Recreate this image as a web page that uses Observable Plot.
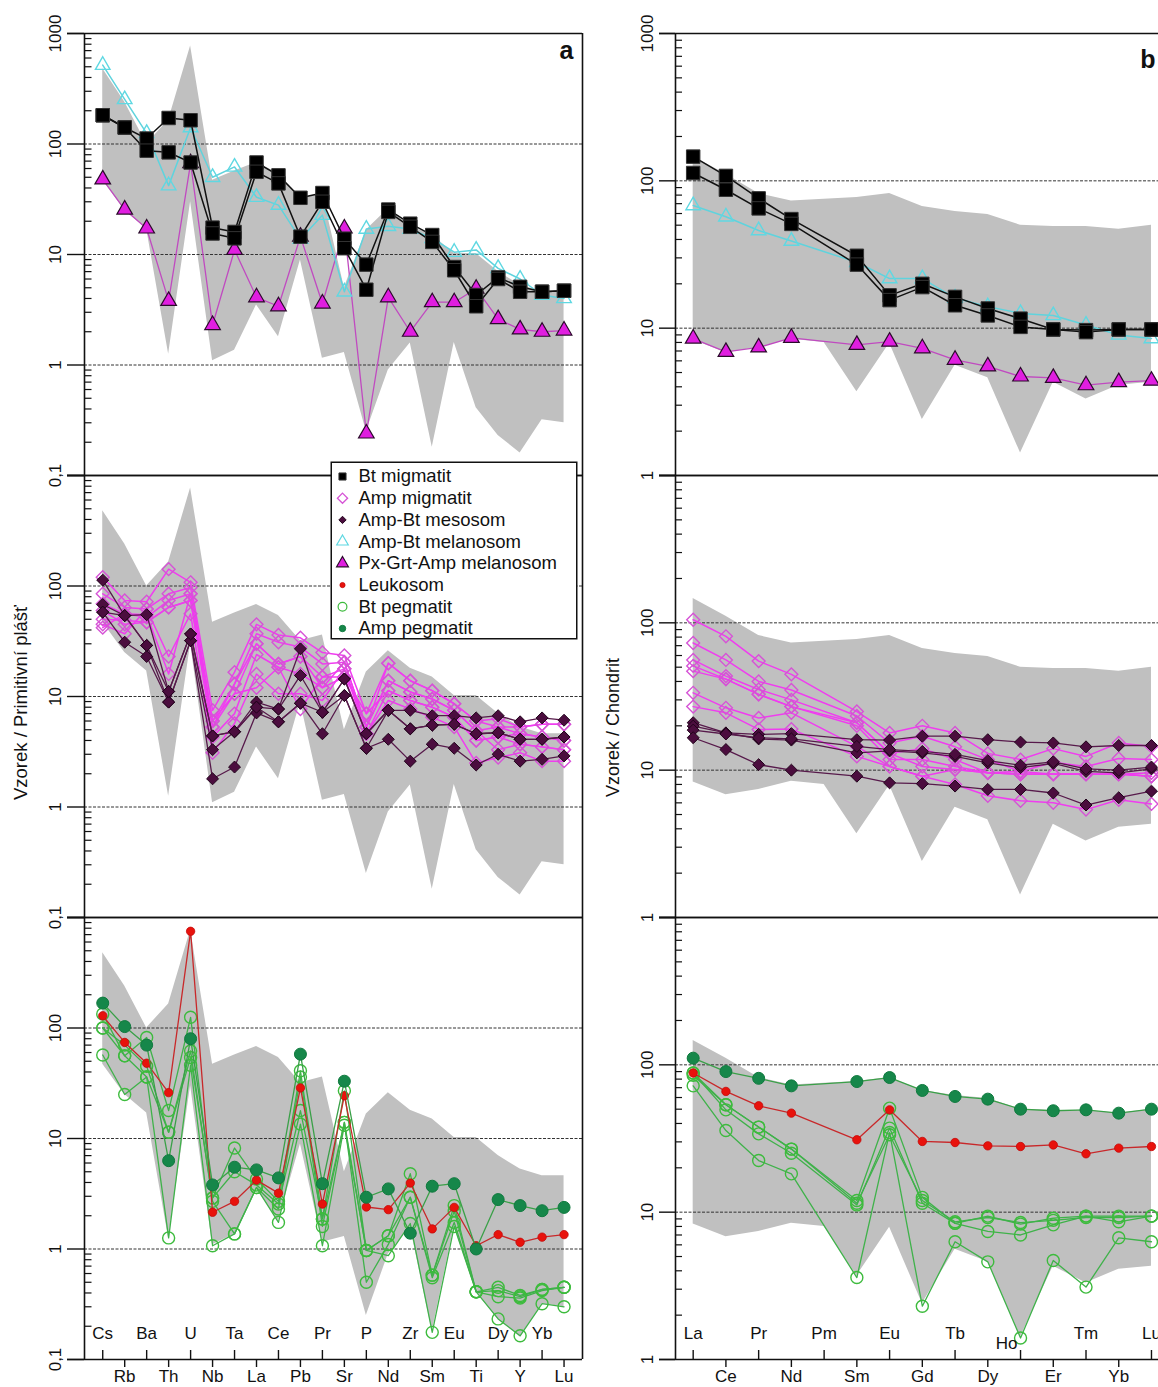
<!DOCTYPE html>
<html><head><meta charset="utf-8">
<script src="https://cdn.jsdelivr.net/npm/d3@7"></script>
<script src="https://cdn.jsdelivr.net/npm/@observablehq/plot@0.6"></script>
<style>
html,body{margin:0;padding:0;background:#fff;overflow:hidden;}
#wrap{position:relative;width:1158px;height:1387px;overflow:hidden;font-family:"Liberation Sans",Arial,sans-serif;}
#wrap svg{position:absolute;overflow:visible;max-width:none;}
</style></head><body><div id="wrap"></div>
<script>
// ---------- categories ----------
const spiderEls = ["Cs","Rb","Ba","Th","U","Nb","Ta","La","Ce","Pb","Pr","Sr","P","Nd","Zr","Sm","Eu","Ti","Dy","Y","Yb","Lu"];
const reeEls = ["La","Ce","Pr","Nd","Pm","Sm","Eu","Gd","Tb","Dy","Ho","Er","Tm","Yb","Lu"];
const legendNames = ["Bt migmatit","Amp migmatit","Amp-Bt mesosom","Amp-Bt melanosom","Px-Grt-Amp melanosom","Leukosom","Bt pegmatit","Amp pegmatit"];
const spiderTickValues = [1000,100,10,1,0.1];
const reeTickValues = [1000,100,10,1];

// ---------- envelopes ----------
const spiderEnvHi = [480,240,100,165,770,47,57,68,54,32,36,5,16.7,26,18,15,10.2,10.2,7,5.3,4.6,4.6];
const spiderEnvLo = [47,25,17,1.25,30,1.09,1.36,3.5,1.8,8.9,1.15,1.3,0.25,0.9,1.58,0.18,1.6,0.41,0.23,0.16,0.32,0.3];
const reeEnvHi = [146,111,82,73,75,77,82,67,62,59,50,49,49,47,50];
const reeEnvLo = [8.3,6.8,7.4,8.4,8.0,3.7,7.9,2.4,5.6,4.6,1.42,4.3,3.3,4.1,4.3];

// ---------- spider (primitive mantle) ----------
const spBtMig1 = [182,141,112,172,164,17.5,16,68,52,32.6,36,13.9,8.1,25.5,19,15,7.7,4.3,6.2,5.1,4.6,4.7];
const spBtMig2 = [182,141,87,84,68,15.5,14,56,44,14.5,30,11.4,4.8,24.3,17.8,13,7.2,3.4,6.0,4.6,4.6,4.7];
const spAmpBtMel = [517,253,125,42,141,50,62,33,28,13.8,22.7,4.6,17,18,17,14,10.5,11,7.5,6,4.3,4.0];
const spPxGrt = [47.8,25.5,17.2,3.8,67,2.3,11,4.1,3.4,14.5,3.6,17.2,0.24,4.1,2.0,3.7,3.7,4.9,2.6,2.1,2.0,2.05];

const spAmpMig1 = [120,74,72,142,108,7.5,16.6,45,36,34,25,23.5,7,20,13.9,11.3,8.6,6,6.3,5.3,5.6,5.6];
const spAmpMig2 = [85,64,62,85,97,6,13,37,31,28,19.7,20.4,5.3,13.9,11,9.5,7.5,4.9,5.3,4.6,4.3,4];
const spAmpMig3 = [69,56,52,74,85,5.3,10.6,30,19.7,23,15,17.8,4.6,11.3,9.2,8,6.5,4,4.3,3.7,3.5,3.3];
const spAmpMig4 = [50,49,47,64,74,4.3,7,24,18.4,16,12,15,4.6,9.2,7.7,6.5,5.3,2.5,2.8,3.1,2.6,2.6];
const spAmpMig5 = [45,37,62,23,56,3.1,5.7,16,10.6,10.6,9.2,17.8,5.3,13.9,11,9.5,7.5,4.9,3.3,3.7,3.5,3.3];
const spAmpMig6 = [42,56,55,16,85,6,10.6,12,18.4,7.7,15,15,7,11.3,9.2,8,6.5,4,4.3,4.6,4.3,4];
const spAmpMig7 = [60,45,47,64,74,5.3,13,30,19.7,23,12,20.4,5.3,20,13.9,11.3,8.6,6,5.3,5.3,5.6,5.6];
const spMeso1 = [113,54,55,11.1,36.8,4.4,4.8,8.9,7.7,27,7.2,14.4,4.6,7.5,7.5,6.7,6.7,6.4,6.7,5.9,6.4,6.1];
const spMeso2 = [68,54,29,8.9,32,3.3,4.8,8,7.7,15.5,7.2,14.4,4.6,7.5,5.1,5.5,5.6,4.6,4.7,4.1,4.1,4.3];
const spMeso3 = [58,31,23,8.9,32,1.8,2.3,7.1,5.9,8.7,4.6,10.2,3.4,4.1,2.6,3.7,3.4,2.4,3.0,2.6,2.7,2.9];
const spMeso4 = [58,54,29,11.1,36.8,4.4,4.8,8,5.9,8.7,7.2,10.2,3.4,7.5,5.1,5.5,5.6,4.6,4.7,4.1,4.1,4.3];

const spLeuko = [129,74,48,26,750,2.15,2.7,4.2,3.2,28.7,2.55,24.4,2.4,2.27,3.95,1.52,2.38,1.07,1.35,1.15,1.28,1.35];
const spAmpPeg = [168,103,70,6.3,80,3.8,5.5,5.2,4.4,58,3.9,33,2.94,3.5,1.39,3.7,3.9,1.0,2.8,2.47,2.22,2.38];
const spBtPeg1 = [134,56,82,17.9,125,2.9,8.2,4.3,2.7,41,1.87,27,0.97,1.32,4.8,0.58,2.47,0.41,0.45,0.38,0.43,0.45];
const spBtPeg2 = [100,56,36,11.4,62,2.7,1.37,3.6,2.3,36,1.6,14,0.5,1.1,2.94,0.55,1.74,0.41,0.37,0.36,0.42,0.45];
const spBtPeg3 = [57,25,36,1.26,46,1.07,1.37,3.6,1.74,13.5,1.07,13.2,0.97,0.87,1.7,0.176,1.6,0.41,0.233,0.164,0.32,0.3];
const spBtPeg4 = [100,70,45,11.4,54,2.9,5.0,3.8,2.55,17.9,1.87,14,0.97,1.32,2.94,0.58,2.2,0.41,0.42,0.37,0.43,0.45];

// ---------- REE (chondrite) ----------
const reBtMig1 = [146,108,76,55,null,31,16.7,20,16.3,13.6,11.6,9.8,9.7,9.8,9.8];
const reBtMig2 = [113,87,65,51,null,27,15.5,19,14.3,12.2,10.2,9.8,9.4,9.8,9.8];
const reAmpBtMel = [68,57,46,39,null,28,21.7,21.7,16,14,12.6,12.2,10.5,9,8.5];
const rePxGrt = [8.5,6.9,7.4,8.6,null,7.7,8.1,7.3,6.1,5.5,4.7,4.6,4.1,4.3,4.4];

const reAmpMig1 = [105,81,55,44.7,null,25,17.9,20,17.9,13,11.8,14,12.4,15.3,14.5];
const reAmpMig2 = [73,56,40,35,null,23.3,15.3,17,14.4,11.8,9.8,11.3,10.6,12,11.8];
const reAmpMig3 = [56,43.5,35.3,30,null,21,13,14,11.8,9.6,9.4,9.4,9.4,9.4,9.1];
const reAmpMig4 = [51,41.5,32.7,27,null,20,11.8,11.8,10.6,9.6,9.4,9.4,9.4,9.4,9.1];
const reAmpMig5 = [47,41.5,32.7,27,null,21,13,10.6,10.1,9.6,9.8,9.4,9.4,9.4,9.6];
const reAmpMig6 = [33.5,26.5,22.6,24.5,null,14.5,10.6,9.1,10.1,9.6,9.4,9.4,9.4,9.4,9.1];
const reAmpMig7 = [27,24.5,18.9,19,null,12.4,10.6,9.1,8,6.7,6.2,6,5.4,6.3,5.9];
const reMeso1 = [21,17.9,17.5,17.7,null,16.1,16,17,17,16.1,15.5,15.3,14.4,14.7,14.7];
const reMeso2 = [19.9,17.9,16.3,16,null,13.1,13.5,13.1,12.4,11.2,10.4,11.1,9.8,9.6,10.2];
const reMeso3 = [18.7,17.6,16.6,16.3,null,14.5,13.8,13.4,12.8,11.6,10.8,11.4,10.2,10,10.5];
const reMeso4 = [16.6,13.8,10.9,10,null,9.1,8.2,8.1,7.8,7.4,7.4,7.0,5.8,6.5,7.2];

const reLeuko = [88,66,52.7,47,null,31,49.5,30.2,29.7,28.2,27.9,28.6,24.9,27.2,27.9];
const reAmpPeg = [111,90,81,72,null,77,82,67,61,58.5,50,48.8,49.5,47,50];
const reBtPeg1 = [88,53.6,37.8,26.8,null,12,50.8,12.6,8.4,9.4,8.3,9.1,9.4,9.4,9.4];
const reBtPeg2 = [88,49.5,34,25.1,null,11.2,37.2,11.5,8.4,7.4,7,8.2,9.4,8.6,9.4];
const reBtPeg3 = [72,35.8,22.4,18.2,null,3.6,34.7,2.3,6.3,4.6,1.4,4.7,3.1,6.7,6.3];
const reBtPeg4 = [85,53.6,37.8,26.8,null,11.5,33.5,12,8.6,9.2,8.5,8.8,9.2,9.2,9.4];

// ---------- styles ----------
const ST = {
  btMig:  {symbol:"square",   r:7.6, fill:"#000", stroke:"#333", sw:1, line:"#111", lw:1.5},
  ampMig: {symbol:"diamond2", r:5.8, fill:"none", stroke:"#d653d6", sw:1.4, line:"#f03cf0", lw:1.5},
  meso:   {symbol:"diamond2", r:5.4, fill:"#4b0d3e", stroke:"#22041c", sw:1, line:"#571a4b", lw:1.3},
  mel:    {symbol:"triangle", r:5.4, fill:"none", stroke:"#5fd8e2", sw:1.4, line:"#5fd3dd", lw:1.5},
  pxgrt:  {symbol:"triangle", r:5.8, fill:"#e01ee0", stroke:"#2a0a2a", sw:1.2, line:"#c04ac0", lw:1.3},
  leuko:  {symbol:"circle",   r:4.2, fill:"#e8120c", stroke:"#c40a0a", sw:0.8, line:"#c8282a", lw:1.3},
  btPeg:  {symbol:"circle",   r:6,   fill:"none", stroke:"#3dbb3d", sw:1.4, line:"#3fb24a", lw:1.3},
  ampPeg: {symbol:"circle",   r:6,   fill:"#16874a", stroke:"#0f7a3e", sw:1, line:"#3aa048", lw:1.3}
};

const FONT = "Liberation Sans, Arial, Helvetica, sans-serif";
const wrap = document.getElementById("wrap");

function rowsOf(values, name){
  return values.map((v,i)=>({i, v, s:name})).filter(d=>d.v!=null);
}

function makePanel(cfg){
  const {els, xDomain, yDomain, majors, labels, envHi, envLo, groups, left, frameTop,
         marginLeft, frameW, frameH, xAxis, tickDx, minorLen, majorLen, extraMarks=[]} = cfg;
  const mt = 22, mb = 36, mr = 12;
  const width = marginLeft + frameW + mr, height = mt + frameH + mb;
  const marks = [];
  const envRows = els.map((e,i)=>({i, lo:envLo[i], hi:envHi[i]}));
  marks.push(Plot.areaY(envRows, {x:"i", y1:"lo", y2:"hi", fill:"#c0c0c0"}));
  // minor ticks
  const minors = [];
  for (let d = yDomain[0]; d < yDomain[1]; d *= 10) for (let k = 2; k <= 9; k++) minors.push(+(d*k).toPrecision(3));
  marks.push(Plot.ruleY(minors, {stroke:"#111", strokeWidth:1.2, insetRight: frameW - minorLen}));
  // dashed decade gridlines
  const inner = majors.filter(v => v > yDomain[0] && v < yDomain[1]);
  marks.push(Plot.ruleY(inner, {stroke:"#333", strokeWidth:1, strokeDasharray:"3,1.5"}));
  // major tick stubs
  marks.push(Plot.ruleY(majors, {stroke:"#111", strokeWidth:1.4, insetLeft:-majorLen, insetRight:frameW}));
  // series
  for (const g of groups){
    const st = g.style;
    const data = g.rows.flatMap((arr,k)=>rowsOf(arr, g.name + k));
    marks.push(Plot.line(data, {x:"i", y:"v", z:"s", stroke:st.line, strokeWidth:st.lw}));
    marks.push(Plot.dot(data, {x:"i", y:"v", symbol:st.symbol, r:st.r, fill:st.fill, stroke:st.stroke, strokeWidth:st.sw}));
  }
  // frame: top/bottom solid, left axis, right border
  marks.push(Plot.ruleY(yDomain, {stroke:"#111", strokeWidth:1.6, insetLeft:-majorLen}));
  marks.push(Plot.ruleX(xDomain, {stroke:"#111", strokeWidth:1.6}));
  // tick labels
  marks.push(Plot.text(labels, {y:d=>d, text:d=>d < 1 ? "0,1" : String(d), frameAnchor:"left",
    textAnchor:"middle", dx:tickDx, rotate:-90, fontSize:17, fill:"#111"}));
  if (xAxis){
    const all = els.map((e,i)=>({e,i}));
    const even = all.filter(d=>d.i%2===0), odd = all.filter(d=>d.i%2===1);
    marks.push(Plot.ruleX(even, {x:"i", insetTop:frameH-9, stroke:"#111", strokeWidth:1.4}));
    marks.push(Plot.ruleX(odd, {x:"i", insetTop:frameH, insetBottom:-8, stroke:"#111", strokeWidth:1.4}));
    marks.push(Plot.text(even.filter(d=>d.e!=="Ho"), {x:"i", text:"e", frameAnchor:"bottom", textAnchor:"middle", dy:-21, fontSize:17, fill:"#111"}));
    marks.push(Plot.text(even.filter(d=>d.e==="Ho"), {x:"i", text:"e", frameAnchor:"bottom", textAnchor:"middle", dy:-11, dx:-14, fontSize:17, fill:"#111"}));
    marks.push(Plot.text(odd, {x:"i", text:"e", frameAnchor:"bottom", textAnchor:"middle", dy:22, fontSize:17, fill:"#111"}));
  }
  marks.push(...extraMarks);
  const svg = Plot.plot({
    width, height, marginLeft, marginRight:mr, marginTop:mt, marginBottom:mb,
    x:{domain:xDomain, axis:null},
    y:{type:"log", domain:yDomain, axis:null},
    style:{fontFamily:FONT, overflow:"visible", background:"transparent"},
    marks
  });
  svg.style.left = left + "px";
  svg.style.top = (frameTop - mt) + "px";
  wrap.appendChild(svg);
}

const L = {els:spiderEls, xDomain:[-0.83,21.84], yDomain:[0.1,1000], majors:spiderTickValues,
  envHi:spiderEnvHi, envLo:spiderEnvLo, left:0, marginLeft:84, frameW:498, frameH:442,
  tickDx:-29, minorLen:7.5, majorLen:17};
const R = {els:reeEls, xDomain:[-0.54,14.52], yDomain:[1,1000], majors:reeTickValues,
  envHi:reeEnvHi, envLo:reeEnvLo, left:600, marginLeft:75, frameW:493, frameH:442,
  tickDx:-28, minorLen:7, majorLen:16};

const panelLetter = (t, dx, dy) => Plot.text([t], {text:d=>d, frameAnchor:"top-right", dx, dy,
  textAnchor:"end", lineAnchor:"bottom", fontSize:25, fontWeight:"bold", fill:"#111"});

// ----- left column -----
makePanel({...L, frameTop:33, labels:[1000,100,10,1,0.1], xAxis:false,
  groups:[
    {name:"px", style:ST.pxgrt, rows:[spPxGrt]},
    {name:"mel", style:ST.mel, rows:[spAmpBtMel]},
    {name:"bt", style:ST.btMig, rows:[spBtMig1, spBtMig2]}
  ],
  extraMarks:[panelLetter("a", -9, 25)]});
makePanel({...L, frameTop:475, labels:[100,10,1,0.1], xAxis:false,
  groups:[
    {name:"am", style:ST.ampMig, rows:[spAmpMig1,spAmpMig2,spAmpMig3,spAmpMig4,spAmpMig5,spAmpMig6,spAmpMig7]},
    {name:"ms", style:ST.meso, rows:[spMeso1,spMeso2,spMeso3,spMeso4]}
  ],
  extraMarks:[Plot.text(["Vzorek / Primitivní plášť"], {text:d=>d, frameAnchor:"left", textAnchor:"middle",
    dx:-63, dy:6, rotate:-90, fontSize:18.5, fill:"#111"})]});
makePanel({...L, frameTop:917, labels:[100,10,1,0.1], xAxis:true,
  groups:[
    {name:"bp", style:ST.btPeg, rows:[spBtPeg1,spBtPeg2,spBtPeg3,spBtPeg4]},
    {name:"le", style:ST.leuko, rows:[spLeuko]},
    {name:"ap", style:ST.ampPeg, rows:[spAmpPeg]}
  ]});

// ----- right column -----
makePanel({...R, frameTop:33, labels:[1000,100,10,1], xAxis:false,
  groups:[
    {name:"px", style:ST.pxgrt, rows:[rePxGrt]},
    {name:"mel", style:ST.mel, rows:[reAmpBtMel]},
    {name:"bt", style:ST.btMig, rows:[reBtMig1, reBtMig2]}
  ],
  extraMarks:[panelLetter("b", -13, 34)]});
makePanel({...R, frameTop:475, labels:[100,10,1], xAxis:false,
  groups:[
    {name:"am", style:ST.ampMig, rows:[reAmpMig1,reAmpMig2,reAmpMig3,reAmpMig4,reAmpMig5,reAmpMig6,reAmpMig7]},
    {name:"ms", style:ST.meso, rows:[reMeso1,reMeso2,reMeso3,reMeso4]}
  ],
  extraMarks:[Plot.text(["Vzorek / Chondrit"], {text:d=>d, frameAnchor:"left", textAnchor:"middle",
    dx:-62, dy:31, rotate:-90, fontSize:18, fill:"#111"})]});
makePanel({...R, frameTop:917, labels:[100,10,1], xAxis:true,
  groups:[
    {name:"bp", style:ST.btPeg, rows:[reBtPeg1,reBtPeg2,reBtPeg3,reBtPeg4]},
    {name:"le", style:ST.leuko, rows:[reLeuko]},
    {name:"ap", style:ST.ampPeg, rows:[reAmpPeg]}
  ]});

// ----- legend -----
(function(){
  const legendStyles = [
    {...ST.btMig, r:4},
    {...ST.ampMig, r:4.6, sw:1.3},
    {...ST.meso, r:3.3},
    {...ST.mel, r:4.3, sw:1.2},
    {...ST.pxgrt, r:4.4},
    {...ST.leuko, r:2.6},
    {...ST.btPeg, r:4.4, sw:1.2},
    {...ST.ampPeg, r:3.2}
  ];
  const items = legendNames.map((name,k)=>({name, k}));
  const marks = [Plot.frame({fill:"white", stroke:"#111", strokeWidth:1.5, inset:0.75})];
  items.forEach((d,k)=>{
    const s = legendStyles[k];
    marks.push(Plot.dot([d], {x:()=>0, y:"k", symbol:s.symbol, r:s.r, fill:s.fill, stroke:s.stroke, strokeWidth:s.sw}));
  });
  marks.push(Plot.text(items, {x:()=>0, y:"k", text:"name", dx:16, textAnchor:"start", fontSize:18.5, fill:"#111"}));
  const svg = Plot.plot({
    width:247, height:178, margin:0,
    x:{domain:[0,1], range:[12,235], axis:null},
    y:{domain:[0,7], range:[15,167], axis:null},
    style:{fontFamily:FONT, overflow:"visible", background:"transparent"},
    marks
  });
  svg.style.left = "330px";
  svg.style.top = "461px";
  wrap.appendChild(svg);
})();
</script></body></html>
